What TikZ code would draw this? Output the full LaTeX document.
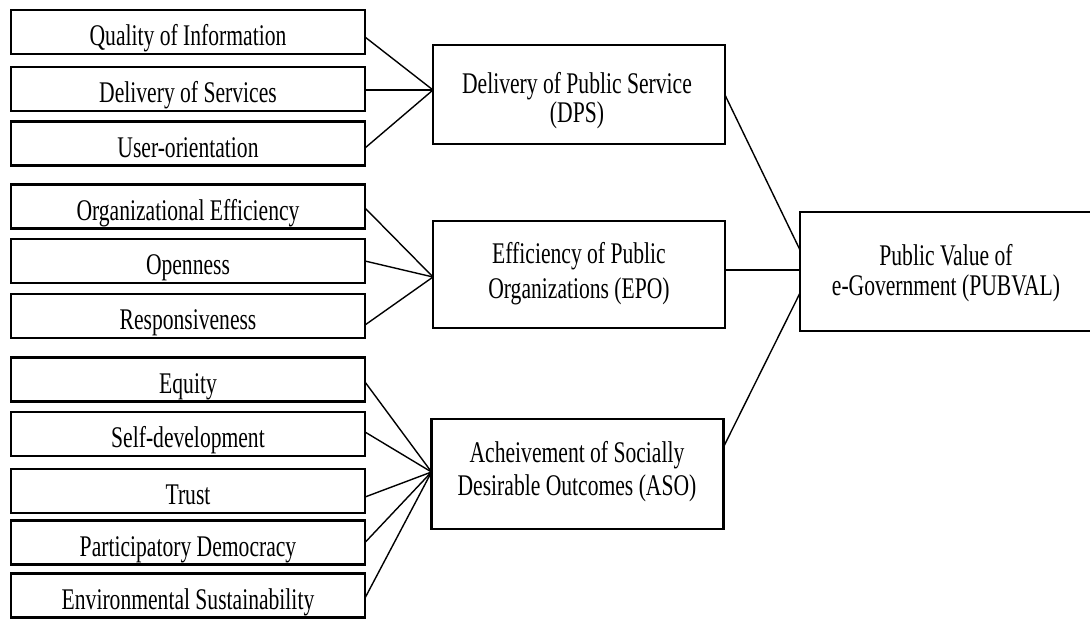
\documentclass[tikz,border=0pt]{standalone}
\usepackage{fontspec}
\newfontfamily\boxfont[FakeStretch=0.72]{Liberation Serif}
\begin{document}
\begin{tikzpicture}[x=1pt,y=-1pt,
  every node/.style={inner sep=0pt, outer sep=0pt},
  item/.style={draw, line width=2.8pt, minimum width=354pt, minimum height=44pt,
    font=\boxfont\fontsize{30}{30}\selectfont, text height=27pt, text depth=0pt},
  construct/.style={draw, line width=2.8pt, minimum width=292pt},
  caption/.style={anchor=base, align=center, font=\boxfont\fontsize{30}{#1}\selectfont},
  link/.style={line width=1.4pt},
  hlink/.style={line width=2.2pt}]
\useasboundingbox (0,0) rectangle (1090,622);
\begin{scope}
\clip (0,0) rectangle (1090,622);
\fill[white] (0,0) rectangle (1090,622);

% indicator boxes
\node[item] (qi)  at (188,32)    {Quality of Information};
\node[item] (ds)  at (188,89)    {Delivery of Services};
\node[item] (uo)  at (188,143.5) {User-orientation};
\node[item] (oe)  at (188,206.5) {Organizational Efficiency};
\node[item] (op)  at (188,261)   {Openness};
\node[item] (rs)  at (188,316)   {Responsiveness};
\node[item] (eq)  at (188,379.5) {Equity};
\node[item] (sd)  at (188,434)   {Self-development};
\node[item] (tr)  at (188,491)   {Trust};
\node[item] (pd)  at (188,542.5) {Participatory Democracy};
\node[item] (es)  at (188,595.5) {Environmental Sustainability};

% dimension boxes and their two-line captions (anchored at the last baseline)
\node[construct, minimum height=99pt]  (dps) at (579,94.5)  {};
\node[construct, minimum height=107pt] (epo) at (579,274.5) {};
\node[construct, minimum height=110pt] (aso) at (577.5,474) {};
\node[construct, minimum height=119pt] (pv)  at (946,271.5) {};

\node[caption=29] (dpst) at (577,122) {Delivery of Public Service\\(DPS)};
\node[caption=35] (epot) at (579,298) {Efficiency of Public\\Organizations (EPO)};
\node[caption=33] (asot) at (577,495) {Acheivement of Socially\\Desirable Outcomes (ASO)};
\node[caption=30] (pvt)  at (946,295) {Public Value of\\e-Government (PUBVAL)};

% indicators to dimensions
\draw[link]  ([yshift=-5pt]qi.east)   -- ([yshift=4.5pt]dps.west);
\draw[hlink] ([yshift=-1pt]ds.east)   -- ([yshift=4.5pt]dps.west);
\draw[link]  ([yshift=-4.5pt]uo.east) -- ([yshift=4.5pt]dps.west);

\draw[link]  ([yshift=-1.5pt]oe.east) -- ([yshift=-2.5pt]epo.west);
\draw[link]  (op.east)                -- ([yshift=-2.5pt]epo.west);
\draw[link]  ([yshift=-9pt]rs.east)   -- ([yshift=-2.5pt]epo.west);

\draw[link]  ([yshift=-2.5pt]eq.east) -- ([yshift=2pt]aso.west);
\draw[link]  ([yshift=2pt]sd.east)    -- ([yshift=2pt]aso.west);
\draw[link]  ([yshift=-6pt]tr.east)   -- ([yshift=2pt]aso.west);
\draw[link]  (pd.east)                -- ([yshift=2pt]aso.west);
\draw[link]  ([yshift=-2.5pt]es.east) -- ([yshift=2pt]aso.west);

% dimensions to public value
\draw[link]  ([yshift=-0.5pt]dps.east) -- ([yshift=21.5pt]pv.west);
\draw[hlink] ([yshift=4.5pt]epo.east)  -- ([yshift=1.5pt]pv.west);
\draw[link]  ([yshift=27pt]aso.east)   -- ([yshift=-21.5pt]pv.west);
\end{scope}
\end{tikzpicture}
\end{document}
